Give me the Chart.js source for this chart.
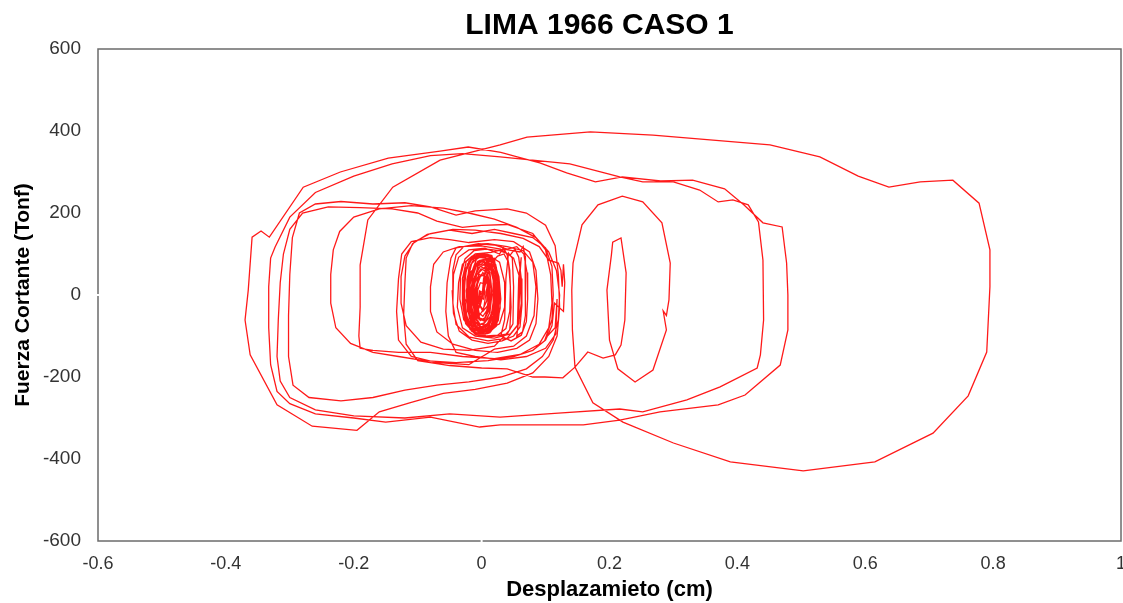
<!DOCTYPE html>
<html>
<head>
<meta charset="utf-8">
<title>LIMA 1966 CASO 1</title>
<script src="https://cdn.jsdelivr.net/npm/chart.js@4.4.1/dist/chart.umd.min.js"></script>
<style>
  html, body { margin: 0; padding: 0; background: #fff; }
  #wrap { width: 1123px; height: 603px; }
</style>
</head>
<body>
<div id="wrap"><canvas id="histeresis" width="1123" height="603"></canvas></div>
<script>
// Desplazamiento (cm) vs fuerza cortante (Tonf), tramo a tramo
const tramoInicial = [
  [0, 0], [0.004, 30], [0.007, 45], [0.003, 15], [-0.003, -20], [-0.007, -40], [-0.002, -25],
  [0.005, 20], [0.010, 55], [0.009, 25], [0.003, -35], [-0.006, -55], [-0.011, -35], [-0.009, 15],
  [-0.004, 55], [0.005, 68], [0.013, 55], [0.016, 10], [0.012, -45], [0.003, -72], [-0.009, -70],
  [-0.015, -35], [-0.016, 15], [-0.012, 62], [-0.003, 82], [0.009, 80], [0.018, 55], [0.022, 5],
  [0.019, -50], [0.009, -80], [-0.005, -86], [-0.017, -62], [-0.022, -15], [-0.021, 42], [-0.015, 80],
  [-0.003, 92], [0.011, 88], [0.021, 65], [0.026, 15], [0.025, -42], [0.017, -80], [0.003, -92],
  [-0.013, -86], [-0.024, -48], [-0.027, 8], [-0.025, 58], [-0.017, 88], [-0.005, 96], [0.009, 94],
  [0.022, 74], [0.028, 25], [0.029, -32], [0.023, -76], [0.009, -94], [-0.009, -95], [-0.023, -72],
  [-0.029, -25], [-0.028, 32], [-0.022, 76], [-0.010, 94], [0.006, 97], [0.019, 84], [0.027, 45],
  [0.030, -10], [0.026, -62], [0.014, -90], [-0.002, -98], [-0.018, -84], [-0.027, -44], [-0.030, 10],
  [-0.026, 62], [-0.014, 90], [0.002, 98], [0.016, 90], [0.024, 60], [0.026, 0], [0.022, -55],
  [0.012, -85], [-0.004, -90], [-0.016, -70], [-0.021, -20], [-0.019, 40], [-0.011, 75], [0.002, 85],
  [0.013, 70], [0.019, 30], [0.018, -30], [0.011, -68], [-0.001, -78], [-0.011, -55], [-0.014, -5],
  [-0.011, 45], [-0.002, 70], [0.008, 62], [0.013, 25], [0.011, -30], [0.004, -60], [-0.005, -55],
  [-0.009, -15], [-0.006, 35], [0.002, 55], [0.008, 40], [0.014, 72], [0.020, 88], [0.024, 40],
  [0.022, -20], [0.016, -72], [0.006, -88], [-0.008, -82], [-0.018, -50], [-0.020, 0], [-0.016, 52],
  [-0.008, 88], [0.006, 100], [0.016, 96], [0.021, 60], [0.020, -10], [0.014, -64], [0.004, -84],
  [-0.006, -74], [-0.012, -30], [-0.012, 30], [-0.006, 70], [0.004, 80], [0.010, 50], [0.010, -20],
  [0.006, -55], [-0.002, -62], [-0.008, -30], [-0.008, 20], [-0.002, 45], [0.006, 52]
];

const tramoPeine = [
  [0.012, 72], [0.025, 95], [0.035, 100], [0.042, 80], [0.045, 20], [0.044, -40], [0.038, -82],
  [0.025, -98], [0.008, -100], [-0.012, -90], [-0.028, -60], [-0.034, -10], [-0.033, 45], [-0.026, 88],
  [-0.012, 108], [0.008, 112], [0.028, 108], [0.045, 98], [0.052, 112], [0.058, 92], [0.062, 40],
  [0.063, -25], [0.060, -78], [0.050, -100], [0.032, -112], [0.010, -118], [-0.015, -110], [-0.035, -88],
  [-0.044, -45], [-0.046, 10], [-0.045, 60], [-0.040, 98], [-0.028, 118], [-0.005, 125], [0.020, 122],
  [0.040, 112], [0.055, 118], [0.066, 100], [0.071, 55], [0.072, -10], [0.070, -65], [0.062, -98],
  [0.046, -112], [0.030, -100], [0.036, -60], [0.038, 40], [0.042, 102], [0.048, 90], [0.050, 20],
  [0.049, -70], [0.040, -95], [0.015, -102], [-0.010, -96], [-0.025, -70], [-0.030, -20], [-0.030, 40],
  [-0.024, 82], [-0.010, 100], [0.015, 104], [0.035, 112], [0.060, 105], [0.065, 118], [0.068, 95],
  [0.069, 30], [0.068, -50], [0.064, -90], [0.055, -100], [0.058, -60], [0.060, 50], [0.062, 92],
  [0.058, 40], [0.056, -75], [0.040, -105], [0.010, -112], [-0.020, -102], [-0.040, -72], [-0.045, -20],
  [-0.044, 50], [-0.036, 92], [-0.020, 110], [0.005, 114], [0.028, 100], [0.034, 115], [0.040, 98],
  [0.044, 60], [0.046, -30], [0.044, -85], [0.034, -102]
];

const tramoMedio = [
  [0.02, -125], [-0.02, -135], [-0.06, -132], [-0.095, -115], [-0.118, -75], [-0.126, -20], [-0.126, 45],
  [-0.12, 95], [-0.105, 130], [-0.08, 150], [-0.045, 160], [-0.01, 158], [0.03, 150], [0.065, 138],
  [0.09, 118], [0.105, 85], [0.120, 78], [0.124, 60], [0.126, 20], [0.128, 75], [0.130, 30],
  [0.128, -40], [0.114, -20], [0.11, -75], [0.10, -110], [0.08, -135],
  [0.05, -150], [0.01, -160], [-0.04, -165], [-0.09, -160], [-0.13, -150], [-0.17, -140], [-0.205, -118],
  [-0.228, -80], [-0.236, -20], [-0.236, 50], [-0.232, 110], [-0.222, 155], [-0.2, 190], [-0.16, 210],
  [-0.11, 218], [-0.06, 212], [-0.02, 200], [0.02, 185], [0.055, 165], [0.085, 140], [0.105, 105],
  [0.117, 60], [0.122, 0], [0.12, -60], [0.112, -110], [0.095, -150], [0.07, -180], [0.03, -200],
  [-0.02, -212], [-0.07, -220], [-0.12, -232], [-0.17, -250], [-0.22, -258], [-0.27, -250], [-0.295, -220],
  [-0.302, -150], [-0.302, -50], [-0.30, 50], [-0.296, 140], [-0.285, 200], [-0.26, 222], [-0.22, 228],
  [-0.17, 222], [-0.12, 225], [-0.08, 215], [-0.04, 195], [-0.01, 205], [0.04, 210], [0.07, 200],
  [0.1, 170], [0.115, 120], [0.12, 50], [0.122, -30], [0.118, -100], [0.105, -150], [0.08, -190],
  [0.04, -215], [-0.01, -230], [-0.06, -240], [-0.11, -262]
];

const tramoIzquierdo = [
  [-0.16, -285], [-0.195, -330], [-0.265, -320], [-0.32, -268], [-0.362, -146], [-0.37, -61], [-0.365, 12],
  [-0.359, 141], [-0.345, 156], [-0.332, 141], [-0.279, 263], [-0.221, 300], [-0.146, 334], [-0.065, 351],
  [-0.021, 361], [0.03, 348], [0.06, 335], [0.091, 322], [0.133, 298], [0.178, 276], [0.22, 288],
  [0.28, 278], [0.33, 280], [0.38, 259], [0.41, 220], [0.44, 176], [0.47, 166], [0.477, 78],
  [0.479, 0], [0.479, -85], [0.467, -171], [0.412, -244], [0.370, -268], [0.279, -285], [0.216, -305],
  [0.159, -317], [0.112, -317], [0.029, -317], [-0.003, -322], [-0.08, -298], [-0.15, -310], [-0.2, -300],
  [-0.26, -290], [-0.30, -265], [-0.32, -235], [-0.33, -170], [-0.333, -80], [-0.333, 20], [-0.33, 90],
  [-0.323, 117], [-0.30, 190], [-0.26, 250], [-0.2, 290], [-0.14, 320], [-0.08, 340], [-0.03, 345],
  [0.029, 337], [0.138, 320], [0.216, 288], [0.252, 276], [0.30, 276], [0.341, 256], [0.37, 227],
  [0.393, 232], [0.417, 220], [0.433, 178], [0.44, 85], [0.441, -61], [0.436, -146], [0.431, -178],
  [0.373, -224], [0.321, -256], [0.252, -285], [0.216, -278], [0.12, -288], [0.029, -298], [-0.05, -290],
  [-0.12, -300], [-0.2, -295], [-0.26, -280], [-0.3, -250]
];

const tramoRetorno = [
  [-0.315, -210], [-0.32, -150], [-0.318, -60], [-0.315, 30], [-0.31, 100], [-0.3, 160], [-0.28, 200],
  [-0.24, 215], [-0.19, 213], [-0.14, 210], [-0.1, 200], [-0.07, 180], [-0.03, 165], [0.0, 170],
  [0.04, 172], [0.08, 150], [0.1, 110], [0.108, 50], [0.11, -20], [0.105, -80], [0.09, -120],
  [0.06, -145], [0.02, -155], [-0.03, -150], [-0.08, -140], [-0.13, -140], [-0.17, -135], [-0.19, -130],
  [-0.192, -100], [-0.19, -30], [-0.19, 73]
];

const tramoGrande = [
  [-0.178, 183], [-0.139, 263], [-0.065, 329], [0.029, 366], [0.071, 385], [0.17, 398], [0.268, 390],
  [0.451, 366], [0.529, 337], [0.589, 290], [0.637, 263], [0.686, 276], [0.737, 280], [0.778, 224],
  [0.795, 110], [0.795, 20], [0.79, -139], [0.761, -246], [0.706, -337], [0.615, -407], [0.503, -429],
  [0.389, -407], [0.300, -361], [0.221, -310], [0.174, -263], [0.146, -176], [0.142, -85], [0.141, 12],
  [0.143, 78], [0.157, 171], [0.182, 220], [0.220, 241], [0.252, 227], [0.282, 176], [0.295, 78],
  [0.293, -12], [0.289, -50], [0.284, -39], [0.289, -85], [0.268, -183], [0.24, -212], [0.213, -180],
  [0.20, -110], [0.196, 12], [0.203, 98], [0.205, 129], [0.218, 139], [0.226, 54], [0.224, -61],
  [0.218, -122], [0.209, -146], [0.19, -154], [0.166, -139], [0.146, -176], [0.127, -202], [0.099, -200],
  [0.08, -200], [0.04, -180]
];

const tramoMedio2 = [
  [0.0, -178], [-0.05, -172], [-0.1, -160], [-0.118, -120], [-0.122, -50], [-0.12, 30], [-0.118, 90],
  [-0.108, 125], [-0.085, 148], [-0.05, 158], [-0.015, 150], [0.02, 160], [0.05, 150], [0.08, 140],
  [0.1, 115], [0.11, 70], [0.112, 0], [0.11, -60], [0.1, -105], [0.115, -80], [0.118, -10],
  [0.116, -95], [0.1, -130], [0.07, -150], [0.03, -158], [-0.01, -150], [-0.04, -140], [-0.052, -100],
  [-0.056, -40], [-0.054, 30], [-0.048, 90], [-0.04, 115], [-0.02, 120], [0.01, 125], [0.04, 118],
  [0.065, 108], [0.08, 80], [0.085, 20], [0.082, -50], [0.07, -100], [0.05, -125], [0.02, -132]
];

const tramoFinal = [
  [-0.02, -170], [-0.07, -165], [-0.11, -150], [-0.13, -110], [-0.133, -40], [-0.13, 40], [-0.125, 100],
  [-0.11, 130], [-0.08, 140], [-0.05, 135], [-0.02, 128], [0.02, 135], [0.05, 130], [0.075, 105],
  [0.085, 60], [0.088, -10], [0.085, -70], [0.075, -110], [0.055, -130], [0.025, -140], [-0.01, -135],
  [-0.045, -120], [-0.07, -90], [-0.08, -40], [-0.08, 20], [-0.075, 75], [-0.06, 105], [-0.035, 118],
  [0.0, 120], [0.03, 112], [0.05, 90], [0.06, 40], [0.062, -20], [0.058, -70], [0.045, -95],
  [0.02, -105], [-0.01, -100], [-0.03, -80], [-0.038, -30], [-0.036, 30], [-0.03, 75], [-0.015, 95],
  [0.01, 98], [0.028, 80], [0.036, 30], [0.036, -30], [0.028, -70], [0.01, -85], [-0.01, -78],
  [-0.022, -40], [-0.024, 10], [-0.018, 55], [-0.005, 75], [0.01, 72], [0.02, 45], [0.022, 0],
  [0.018, -45], [0.006, -65], [-0.008, -55], [-0.014, -20], [-0.012, 25], [-0.004, 50], [0.006, 45],
  [0.012, 15], [0.01, -25], [0.002, -40], [-0.005, -20], [-0.003, 10], [0.002, 5]
];

const tramoDenso = [
  [0.006, 70], [0.014, 85], [0.02, 75], [0.024, 30], [0.024, -30], [0.02, -70], [0.01, -88],
  [-0.004, -92], [-0.015, -78], [-0.022, -35], [-0.023, 20], [-0.02, 65], [-0.012, 88], [0.0, 95],
  [0.012, 92], [0.022, 70], [0.027, 20], [0.026, -45], [0.018, -82], [0.004, -96], [-0.01, -92],
  [-0.022, -62], [-0.027, -10], [-0.026, 45], [-0.02, 82], [-0.008, 98], [0.006, 100], [0.018, 88],
  [0.025, 50], [0.028, -5], [0.024, -60], [0.013, -92], [-0.002, -100], [-0.016, -88], [-0.025, -52],
  [-0.028, 5], [-0.024, 60], [-0.014, 92], [0.0, 100], [0.014, 95], [0.023, 68], [0.026, 20],
  [0.022, -38], [0.014, -78], [0.002, -90], [-0.01, -82], [-0.018, -48], [-0.02, 5], [-0.016, 55],
  [-0.006, 82], [0.006, 86], [0.016, 68], [0.02, 25], [0.018, -30], [0.01, -70], [-0.002, -80],
  [-0.012, -62], [-0.016, -20], [-0.014, 30], [-0.006, 66], [0.004, 74], [0.012, 58], [0.015, 15],
  [0.012, -35], [0.004, -62], [-0.004, -60], [-0.01, -30], [-0.01, 15], [-0.004, 45], [0.004, 50],
  [0.009, 25], [0.008, -15], [0.002, -35], [-0.003, -25], [-0.002, 5], [0.001, 0]
];

// últimas oscilaciones, muy apretadas alrededor del origen
const tramoCierre = [
  [0.003, 40], [0.010, 78], [0.017, 90], [0.023, 55], [0.025, 5], [0.021, -52], [0.012, -86],
  [0.000, -94], [-0.012, -84], [-0.019, -56], [-0.024, -12], [-0.023, 38], [-0.017, 74], [-0.006, 92],
  [0.005, 92], [0.015, 80], [0.021, 48], [0.023, -2], [0.019, -46], [0.011, -78], [0.001, -88],
  [-0.008, -80], [-0.015, -58], [-0.018, -20], [-0.018, 26], [-0.013, 62], [-0.004, 84], [0.007, 88],
  [0.014, 74], [0.018, 40], [0.019, -8], [0.015, -50], [0.007, -76], [-0.003, -84], [-0.011, -70],
  [-0.016, -40], [-0.017, 4], [-0.014, 44], [-0.008, 72], [0.001, 82], [0.010, 70], [0.014, 40],
  [0.016, 0], [0.013, -42], [0.006, -66], [-0.002, -72], [-0.009, -56], [-0.012, -24], [-0.012, 16],
  [-0.008, 48], [-0.001, 64], [0.006, 58], [0.010, 32], [0.011, -6], [0.008, -38], [0.002, -52],
  [-0.004, -44], [-0.007, -18], [-0.006, 12], [-0.002, 30], [0.003, 28], [0.005, 8], [0.003, -10],
  [0.000, -6]
];

const ticksX = [-0.6, -0.4, -0.2, 0, 0.2, 0.4, 0.6, 0.8, 1];
const ticksY = [-600, -400, -200, 0, 200, 400, 600];
const TITULO = "LIMA 1966 CASO 1";

const recorrido = [
  ...tramoInicial, ...tramoPeine, ...tramoMedio, ...tramoIzquierdo, ...tramoRetorno,
  ...tramoGrande, ...tramoMedio2, ...tramoFinal, ...tramoDenso, ...tramoCierre
].map(([x, y]) => ({ x, y }));

const FONT = "'Liberation Sans', Arial, sans-serif";

// marco gris alrededor del área de trazado, con el corte en los ceros como en Excel
const marco = {
  id: "marco",
  afterDraw(chart) {
    const { ctx, chartArea: a, scales } = chart;
    ctx.save();
    ctx.strokeStyle = "#6b6b6b";
    ctx.lineWidth = 1.5;
    ctx.strokeRect(a.left, a.top, a.right - a.left, a.bottom - a.top);
    ctx.strokeStyle = "#fff";
    ctx.lineWidth = 2;
    const x0 = scales.x.getPixelForValue(0);
    const y0 = scales.y.getPixelForValue(0);
    ctx.beginPath();
    ctx.moveTo(x0, a.bottom - 1);
    ctx.lineTo(x0, a.bottom + 1);
    ctx.moveTo(a.left - 1, y0);
    ctx.lineTo(a.left + 1, y0);
    ctx.stroke();
    ctx.restore();
  },
};

// el título va centrado sobre el área de trazado, no sobre todo el lienzo
const tituloCentrado = {
  id: "tituloCentrado",
  afterDraw(chart) {
    const { ctx, chartArea: a } = chart;
    ctx.save();
    ctx.fillStyle = "#000";
    ctx.font = `bold 30px ${FONT}`;
    ctx.textAlign = "center";
    ctx.textBaseline = "middle";
    ctx.fillText(TITULO, (a.left + a.right) / 2 - 10, 26);
    ctx.restore();
  },
};

new Chart(document.getElementById("histeresis"), {
  type: "scatter",
  data: {
    datasets: [{
      data: recorrido,
      showLine: true,
      borderColor: "rgba(255, 0, 0, 0.9)",
      borderWidth: 1.3,
      pointRadius: 0,
      tension: 0,
    }],
  },
  options: {
    responsive: false,
    animation: false,
    layout: { padding: { left: 0, right: 2, top: 0, bottom: 0 } },
    plugins: {
      legend: { display: false },
      tooltip: { enabled: false },
      // reserva el espacio del título; el texto lo pinta tituloCentrado
      title: {
        display: true,
        text: TITULO,
        color: "rgba(0, 0, 0, 0)",
        font: { family: FONT, size: 30, weight: "bold" },
        padding: { top: 8, bottom: 5 },
      },
    },
    scales: {
      x: {
        type: "linear",
        min: -0.6,
        max: 1,
        grid: { display: false, drawTicks: false },
        border: { display: false },
        afterBuildTicks: (s) => { s.ticks = ticksX.map((v) => ({ value: v })); },
        afterFit: (s) => { s.height = 62; s.paddingLeft = 0; s.paddingRight = 0; },
        ticks: {
          padding: 12,
          color: "#333",
          font: { family: FONT, size: 18 },
          maxRotation: 0,
          callback: (v) => String(v),
        },
        title: {
          display: true,
          text: "Desplazamieto (cm)",
          color: "#000",
          font: { family: FONT, size: 22, weight: "bold" },
          padding: { top: 0, bottom: 0 },
        },
      },
      y: {
        type: "linear",
        min: -600,
        max: 600,
        grid: { display: false, drawTicks: false },
        border: { display: false },
        afterBuildTicks: (s) => { s.ticks = ticksY.map((v) => ({ value: v })); },
        afterFit: (s) => { s.width = 98; },
        ticks: {
          padding: 17,
          color: "#333",
          font: { family: FONT, size: 19 },
          callback: (v) => String(v),
        },
        title: {
          display: true,
          text: "Fuerza Cortante (Tonf)",
          color: "#000",
          font: { family: FONT, size: 21, weight: "bold" },
          padding: { top: 11, bottom: 0 },
        },
      },
    },
  },
  plugins: [marco, tituloCentrado],
});
</script>
</body>
</html>
